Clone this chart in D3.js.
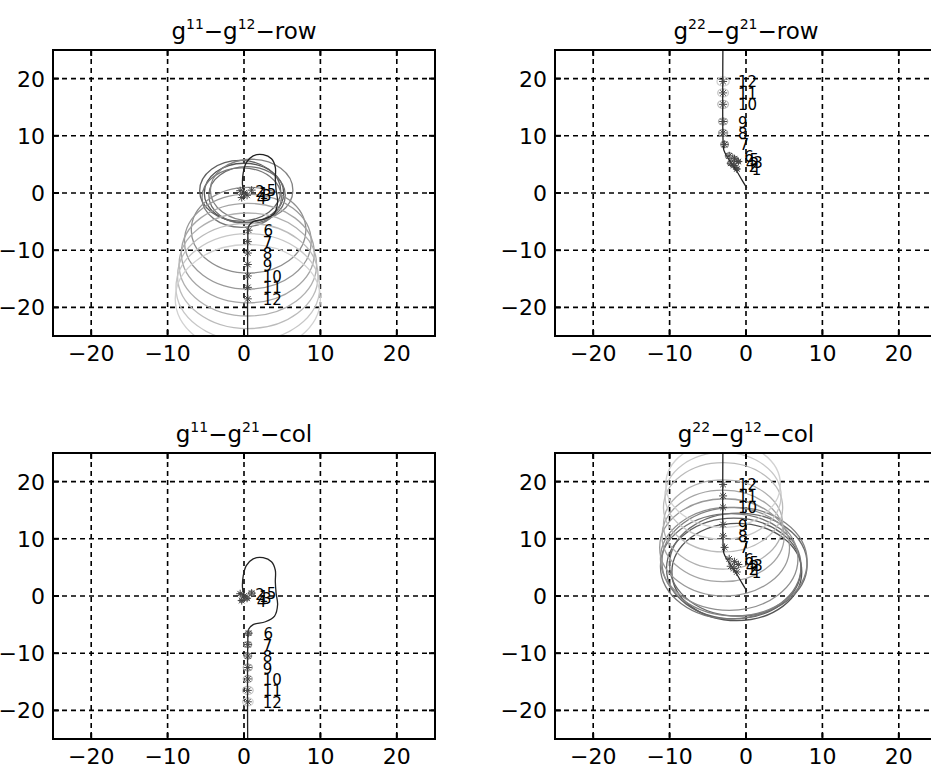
<!DOCTYPE html>
<html>
<head>
<meta charset="utf-8">
<script src="https://cdn.jsdelivr.net/npm/d3@7"></script>
<style>
body { margin: 0; background: #fff; }
text { font-family: "DejaVu Sans", sans-serif; fill: #000; }
</style>
</head>
<body>
<script>
// axis ticks, shared by all four panels
var tickValues = [-20, -10, 0, 10, 20];

// frequency point numbers
var freqLabels = ["1", "2", "3", "4", "5", "6", "7", "8", "9", "10", "11", "12"];

// g11 at the frequency points
var g11Re = [0.0, -0.5, 0.4, -0.3, 1.0, 0.6, 0.5, 0.5, 0.5, 0.5, 0.5, 0.5];
var g11Im = [0.0, 0.4, -0.4, -0.8, 0.5, -6.5, -8.5, -10.5, -12.5, -14.5, -16.5, -18.5];

// g22 at the frequency points
var g22Re = [-1.2, -1.6, -1.0, -2.0, -1.5, -2.2, -2.8, -3.0, -3.0, -3.0, -3.0, -3.0];
var g22Im = [4.2, 4.8, 5.5, 5.2, 6.0, 6.5, 8.5, 10.5, 12.5, 15.5, 17.5, 19.5];

// Gershgorin radii
var g12Row = [5.2, 5.3, 5.0, 5.2, 5.4, 7.5, 8.3, 8.7, 9.0, 9.2, 9.4, 9.5];   // for g11, row
var g21Col = [0.2, 0.2, 0.3, 0.3, 0.4, 0.4, 0.5, 0.5, 0.6, 0.6, 0.7, 0.7];   // for g11, col
var g21Row = [0.3, 0.3, 0.3, 0.4, 0.4, 0.5, 0.5, 0.6, 0.6, 0.7, 0.7, 0.8];   // for g22, row
var g12Col = [8.5, 8.8, 9.0, 9.2, 9.5, 9.0, 8.5, 8.0, 7.8, 7.8, 7.6, 7.5];   // for g22, col

// Nyquist curves of g11 and g22
var g11LineRe = [0.0, -0.2, -0.1, 0.3, 1.2, 2.5, 3.6, 4.1, 4.1, 4.2, 4.4, 4.0, 2.8, 1.2, 0.6, 0.5, 0.5];
var g11LineIm = [0.0, 1.5, 3.5, 5.3, 6.5, 6.7, 6.0, 4.5, 2.5, 0.5, -1.5, -3.5, -4.5, -5.0, -5.8, -8.0, -30.0];
var g22LineRe = [0.1, -0.5, -1.2, -1.8, -2.4, -2.9, -3.0, -3.0];
var g22LineIm = [0.9, 2.2, 3.8, 5.0, 6.2, 7.5, 9.0, 30.0];

var panels = [
    {sup: ["11", "12"], tail: "row", re: g11Re, im: g11Im, r: g12Row, lre: g11LineRe, lim: g11LineIm},
    {sup: ["22", "21"], tail: "row", re: g22Re, im: g22Im, r: g21Row, lre: g22LineRe, lim: g22LineIm},
    {sup: ["11", "21"], tail: "col", re: g11Re, im: g11Im, r: g21Col, lre: g11LineRe, lim: g11LineIm},
    {sup: ["22", "12"], tail: "col", re: g22Re, im: g22Im, r: g12Col, lre: g22LineRe, lim: g22LineIm}
];

var W = 931, H = 769;
var pw = 382, ph = 286;
var origins = [[53, 50], [555, 50], [53, 453], [555, 453]];

var svg = d3.select("body").append("svg")
    .attr("width", W)
    .attr("height", H);

var x = d3.scaleLinear().domain([-25, 25]).range([0, pw]);
var y = d3.scaleLinear().domain([-25, 25]).range([ph, 0]);

var circleColor = d3.scaleLinear().domain([0, 11]).range(["#555", "#d2d2d2"]);

function starPath(cx, cy, s) {
    var d = s * 0.7;
    return "M" + (cx - s) + "," + cy + "L" + (cx + s) + "," + cy +
        "M" + cx + "," + (cy - s) + "L" + cx + "," + (cy + s) +
        "M" + (cx - d) + "," + (cy - d) + "L" + (cx + d) + "," + (cy + d) +
        "M" + (cx - d) + "," + (cy + d) + "L" + (cx + d) + "," + (cy - d);
}

var fmt = function(d) { return d < 0 ? "\u2212" + Math.abs(d) : "" + d; };

panels.forEach(function(p, pi) {
    var g = svg.append("g")
        .attr("transform", "translate(" + origins[pi][0] + "," + origins[pi][1] + ")");

    g.append("clipPath").attr("id", "clip" + pi)
        .append("rect").attr("width", pw).attr("height", ph);

    // grid
    var grid = g.append("g");
    grid.selectAll("line.gx").data(tickValues).enter().append("line")
        .attr("x1", function(d) { return x(d); }).attr("x2", function(d) { return x(d); })
        .attr("y1", 0).attr("y2", ph)
        .attr("stroke", "#000").attr("stroke-width", 1.6).attr("stroke-dasharray", "5,4");
    grid.selectAll("line.gy").data(tickValues).enter().append("line")
        .attr("y1", function(d) { return y(d); }).attr("y2", function(d) { return y(d); })
        .attr("x1", 0).attr("x2", pw)
        .attr("stroke", "#000").attr("stroke-width", 1.6).attr("stroke-dasharray", "5,4");

    var plot = g.append("g").attr("clip-path", "url(#clip" + pi + ")");

    var idx = d3.range(p.re.length);

    // Gershgorin circles
    plot.selectAll("ellipse").data(idx).enter().append("ellipse")
        .attr("cx", function(i) { return x(p.re[i]); })
        .attr("cy", function(i) { return y(p.im[i]); })
        .attr("rx", function(i) { return x(p.r[i]) - x(0); })
        .attr("ry", function(i) { return y(0) - y(p.r[i]); })
        .attr("fill", "none")
        .attr("stroke", function(i) { return circleColor(i); })
        .attr("stroke-width", 1.3);

    // Nyquist curve
    var line = d3.line()
        .x(function(i) { return x(p.lre[i]); })
        .y(function(i) { return y(p.lim[i]); })
        .curve(d3.curveCatmullRom);
    plot.append("path")
        .datum(d3.range(p.lre.length))
        .attr("d", line)
        .attr("fill", "none")
        .attr("stroke", "#222")
        .attr("stroke-width", 1.3);

    // stars at the frequency points
    plot.selectAll("path.star").data(idx).enter().append("path")
        .attr("class", "star")
        .attr("d", function(i) { return starPath(x(p.re[i]), y(p.im[i]), 4); })
        .attr("stroke", "#444")
        .attr("stroke-width", 1);

    // frequency numbers
    plot.selectAll("text.lab").data(idx).enter().append("text")
        .attr("class", "lab")
        .attr("x", function(i) { return x(p.re[i]) + 15; })
        .attr("y", function(i) { return y(p.im[i]) + 6; })
        .attr("font-size", 15)
        .text(function(i) { return freqLabels[i]; });

    // frame
    g.append("rect").attr("width", pw).attr("height", ph)
        .attr("fill", "none").attr("stroke", "#000").attr("stroke-width", 2);

    // tick marks inside the frame
    tickValues.forEach(function(t) {
        g.append("line").attr("x1", x(t)).attr("x2", x(t)).attr("y1", ph).attr("y2", ph - 6)
            .attr("stroke", "#000").attr("stroke-width", 2);
        g.append("line").attr("x1", x(t)).attr("x2", x(t)).attr("y1", 0).attr("y2", 6)
            .attr("stroke", "#000").attr("stroke-width", 2);
        g.append("line").attr("y1", y(t)).attr("y2", y(t)).attr("x1", 0).attr("x2", 6)
            .attr("stroke", "#000").attr("stroke-width", 2);
        g.append("line").attr("y1", y(t)).attr("y2", y(t)).attr("x1", pw).attr("x2", pw - 6)
            .attr("stroke", "#000").attr("stroke-width", 2);
    });

    // tick labels
    g.selectAll("text.xt").data(tickValues).enter().append("text")
        .attr("x", function(d) { return x(d); })
        .attr("y", ph + 25)
        .attr("text-anchor", "middle")
        .attr("font-size", 22)
        .text(fmt);
    g.selectAll("text.yt").data(tickValues).enter().append("text")
        .attr("x", -8)
        .attr("y", function(d) { return y(d) + 8; })
        .attr("text-anchor", "end")
        .attr("font-size", 22)
        .text(fmt);

    // title
    var title = g.append("text")
        .attr("x", pw / 2)
        .attr("y", -11)
        .attr("text-anchor", "middle")
        .attr("font-size", 23);
    title.append("tspan").text("g");
    title.append("tspan").attr("font-size", 14).attr("dy", -10).text(p.sup[0]);
    title.append("tspan").attr("dy", 10).text("\u2212g");
    title.append("tspan").attr("font-size", 14).attr("dy", -10).text(p.sup[1]);
    title.append("tspan").attr("dy", 10).text("\u2212" + p.tail);
});
</script>
</body>
</html>
